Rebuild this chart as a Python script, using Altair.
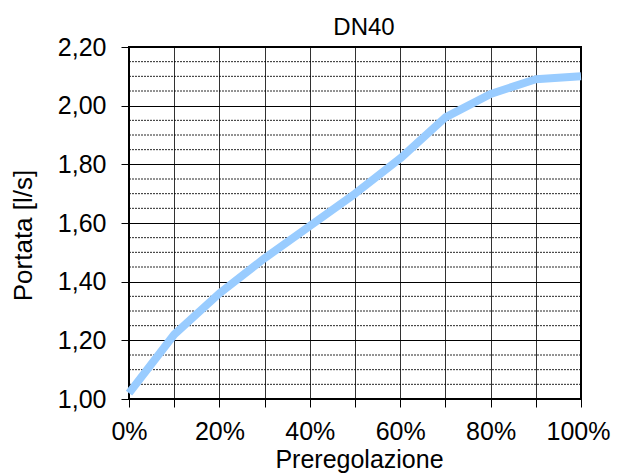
import altair as alt
import pandas as pd

# Data
PREREG = [0, 10, 20, 30, 40, 50, 60, 70, 80, 90, 100]           # %
PORTATA = [1.02, 1.22, 1.36, 1.48, 1.59, 1.70, 1.82, 1.96, 2.04, 2.09, 2.10]  # l/s

X_TICKS = [0, 10, 20, 30, 40, 50, 60, 70, 80, 90, 100]
Y_MAJOR = [1.0, 1.2, 1.4, 1.6, 1.8, 2.0, 2.2]
Y_MINOR = [1.05, 1.10, 1.15, 1.25, 1.30, 1.35, 1.45, 1.50, 1.55,
           1.65, 1.70, 1.75, 1.85, 1.90, 1.95, 2.05, 2.10, 2.15]

df = pd.DataFrame({"x": PREREG, "y": PORTATA})
minor_df = pd.DataFrame({"y": Y_MINOR})

FONT = "Liberation Sans"

x_scale = alt.Scale(domain=[0, 100], nice=False, zero=False)
y_scale = alt.Scale(domain=[1.0, 2.2], nice=False, zero=False)

y_axis = alt.Axis(
    values=Y_MAJOR,
    title="Portata [l/s]",
    labelExpr="replace(format(datum.value, '.2f'), '.', ',')",
    grid=True,
    gridColor="black",
    gridWidth=1,
    domain=False,
    tickColor="black",
    tickSize=8,
    tickWidth=1,
    labelFont=FONT,
    labelFontSize=25,
    labelColor="black",
    labelPadding=15,
    labelFlush=False,
    titleFont=FONT,
    titleFontSize=26,
    titleFontWeight="normal",
    titleColor="black",
    titleBaseline="middle",
    titleX=-106,
    titleY=188,
)

x_axis = alt.Axis(
    values=X_TICKS,
    title="Preregolazione",
    labelExpr="datum.value % 20 == 0 ? datum.value + '%' : ''",
    grid=True,
    gridColor="black",
    gridOpacity=0.8,
    gridWidth=1,
    domain=False,
    tickColor="black",
    tickSize=8,
    tickWidth=1,
    labelFont=FONT,
    labelFontSize=25,
    labelColor="black",
    labelBaseline="alphabetic",
    labelPadding=32,
    labelFlush=False,
    labelOffset={"condition": {"test": "datum.value == 100", "value": -3}, "value": 0},
    titleFont=FONT,
    titleFontSize=25,
    titleFontWeight="normal",
    titleColor="black",
    titleBaseline="alphabetic",
    titleX=230,
    titleY=68,
)

minor = alt.Chart(minor_df).mark_rule(
    color="black", strokeWidth=1, strokeDash=[2, 1], opacity=0.85
).encode(y=alt.Y("y:Q", scale=y_scale, axis=y_axis))

line = alt.Chart(df).mark_line(
    color="#99CCFF", strokeWidth=8, strokeCap="butt", strokeJoin="round"
).encode(
    x=alt.X("x:Q", scale=x_scale, axis=x_axis),
    y=alt.Y("y:Q", scale=y_scale, axis=y_axis),
)

chart = (
    alt.layer(minor, line)
    .properties(
        width=452,
        height=352,
        title=alt.TitleParams(
            "DN40",
            font=FONT,
            fontSize=24,
            fontWeight="normal",
            color="black",
            anchor="middle",
            baseline="alphabetic",
            offset=-24,
            dx=9,
        ),
        autosize=alt.AutoSizeParams(type="none"),
        padding={"left": 121, "top": 39, "right": 30, "bottom": 75},
    )
    .configure(background="white", view=alt.ViewConfig(stroke="black", strokeWidth=2))
)

chart.save("out.html", embed_options={"renderer": "svg", "actions": False})
